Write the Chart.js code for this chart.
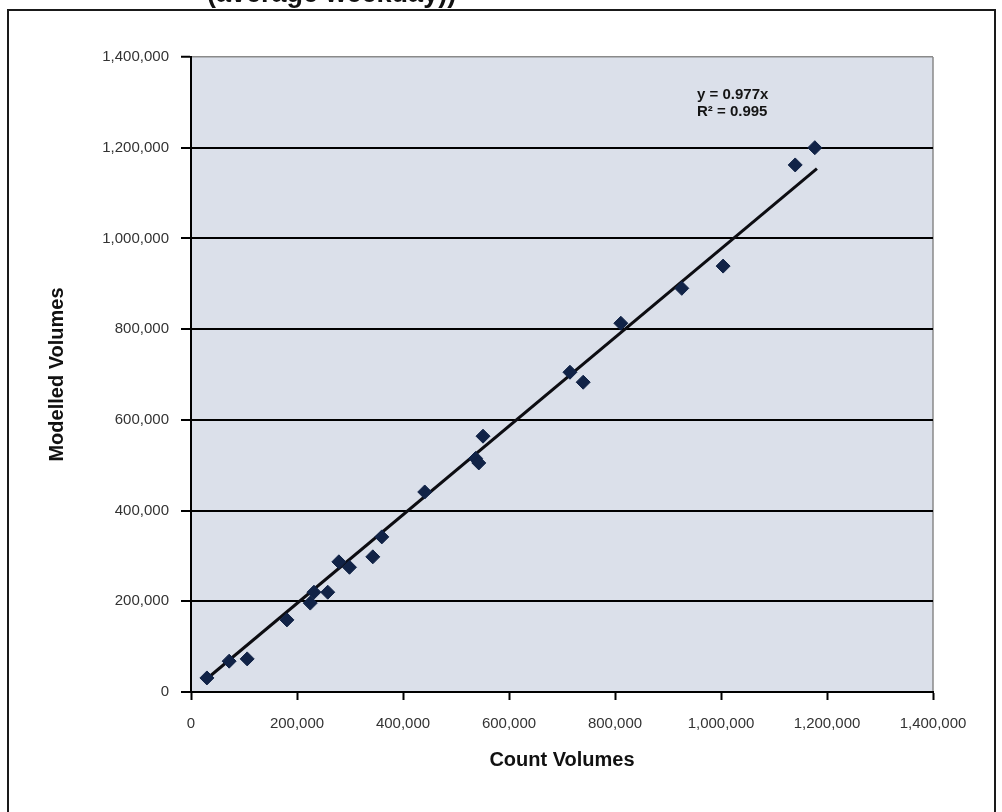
<!DOCTYPE html>
<html>
<head>
<meta charset="utf-8">
<script src="https://cdn.jsdelivr.net/npm/chart.js@4/dist/chart.umd.min.js"></script>
<style>
  html, body { margin: 0; padding: 0; background: #fff; }
  #wrap { width: 1002px; height: 812px; }
</style>
</head>
<body>
<div id="wrap"><canvas id="chart" width="1002" height="812"></canvas></div>
<script>
// Count vs modelled volumes
var countVolumes = [30000, 72000, 106000, 181000, 225000, 232000, 258000, 279000, 299000, 343000,
  360000, 441000, 537000, 543000, 551000, 715000, 740000, 811000, 926000, 1004000, 1140000, 1177000];
var modelledVolumes = [31000, 68000, 73000, 159000, 196000, 220000, 220000, 287000, 275000, 298000,
  342000, 441000, 515000, 505000, 564000, 705000, 683000, 813000, 890000, 939000, 1162000, 1200000];

// Trendline (forced through zero) as shown on the chart
var trendSlope = 0.977;
var trendLabel = ['y = 0.977x', 'R\u00B2 = 0.995'];

var axisMin = 0;
var axisMax = 1400000;
var axisStep = 200000;

var points = countVolumes.map(function(x, i) {
  return { x: x, y: modelledVolumes[i] };
});
var xLo = Math.min.apply(null, countVolumes) - 4000;
var xHi = Math.max.apply(null, countVolumes) + 4000;
var trendPoints = [
  { x: xLo, y: trendSlope * xLo },
  { x: xHi, y: trendSlope * xHi }
];

// Background, frame, cut-off heading and the equation label
var decorPlugin = {
  id: 'decor',
  beforeDraw: function(chart) {
    var ctx = chart.ctx;
    var a = chart.chartArea;
    ctx.save();
    ctx.fillStyle = '#ffffff';
    ctx.fillRect(0, 0, chart.width, chart.height);
    ctx.strokeStyle = '#1a1a1a';
    ctx.lineWidth = 2;
    ctx.strokeRect(8, 10, 987, 900);
    ctx.fillStyle = '#dbe0ea';
    ctx.fillRect(a.left, a.top, a.right - a.left, a.bottom - a.top);
    ctx.strokeStyle = '#8a8a8a';
    ctx.lineWidth = 1.5;
    ctx.beginPath();
    ctx.moveTo(a.right, a.top);
    ctx.lineTo(a.right, a.bottom);
    ctx.stroke();
    ctx.fillStyle = '#111';
    ctx.font = 'bold 27px "Liberation Sans", Arial, sans-serif';
    ctx.textAlign = 'left';
    ctx.textBaseline = 'alphabetic';
    ctx.fillText('(average weekday))', 207, 2);
    ctx.restore();
  },
  afterDraw: function(chart) {
    var ctx = chart.ctx;
    ctx.save();
    ctx.fillStyle = '#141414';
    ctx.font = 'bold 15px "Liberation Sans", Arial, sans-serif';
    ctx.textAlign = 'left';
    ctx.textBaseline = 'middle';
    ctx.fillText(trendLabel[0], 697, 95);
    ctx.fillText(trendLabel[1], 697, 112);
    ctx.restore();
  }
};

var tickFont = { family: '"Liberation Sans", Arial, sans-serif', size: 15 };
var titleFont = { family: '"Liberation Sans Narrow", "Liberation Sans", Arial, sans-serif', size: 20, weight: 'bold' };

var ctx = document.getElementById('chart').getContext('2d');
var chart = new Chart(ctx, {
  type: 'scatter',
  data: {
    datasets: [{
      label: 'Volumes',
      data: points,
      pointStyle: 'rectRot',
      pointRadius: 7,
      pointBackgroundColor: '#112347',
      pointBorderColor: '#112347',
      pointBorderWidth: 1,
      order: 0
    }, {
      label: 'Trend',
      type: 'line',
      data: trendPoints,
      borderColor: '#0d0d12',
      borderWidth: 3,
      pointRadius: 0,
      fill: false,
      order: 1
    }]
  },
  plugins: [decorPlugin],
  options: {
    responsive: false,
    animation: false,
    locale: 'en-US',
    layout: { padding: { left: 0, right: 69, top: 57, bottom: 0 } },
    plugins: {
      legend: { display: false },
      tooltip: { enabled: false }
    },
    scales: {
      x: {
        type: 'linear',
        min: axisMin,
        max: axisMax,
        afterFit: function(s) { s.height = 120; },
        border: { color: '#000', width: 2 },
        grid: { drawOnChartArea: false, drawTicks: true, tickLength: 8, tickColor: '#000', tickWidth: 2 },
        ticks: { stepSize: axisStep, color: '#333', font: tickFont, padding: 15, maxRotation: 0 },
        title: { display: true, text: 'Count Volumes', color: '#111', font: titleFont, padding: { top: 0, bottom: 40 } }
      },
      y: {
        type: 'linear',
        min: axisMin,
        max: axisMax,
        afterFit: function(s) { s.width = 191; },
        border: { color: '#000', width: 2 },
        grid: {
          color: function(c) { return c.tick && c.tick.value === axisMax ? '#8a8a8a' : '#000'; },
          lineWidth: function(c) { return c.tick && c.tick.value === axisMax ? 1.5 : 2; },
          drawTicks: true,
          tickLength: 10,
          tickColor: '#000',
          tickWidth: 2
        },
        ticks: { stepSize: axisStep, color: '#333', font: tickFont, padding: 12 },
        title: { display: true, text: 'Modelled Volumes', color: '#111', font: titleFont, padding: { top: 45, bottom: 0 } }
      }
    }
  }
});
</script>
</body>
</html>
